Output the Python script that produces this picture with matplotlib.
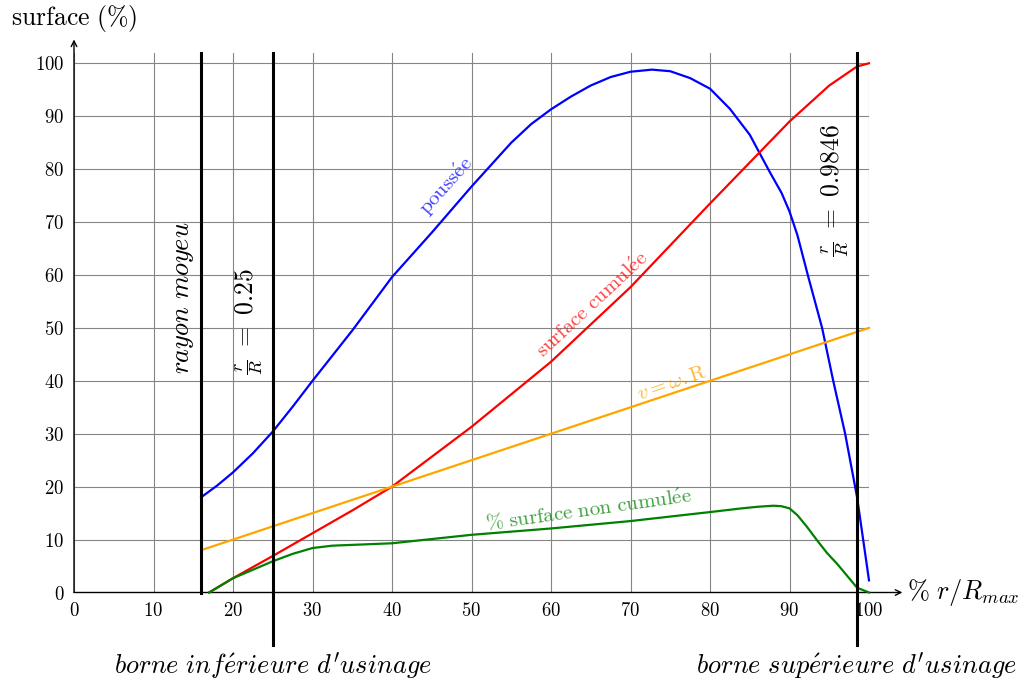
import matplotlib
matplotlib.use('Agg')
import matplotlib.pyplot as plt

plt.rcParams['mathtext.fontset'] = 'cm'
plt.rcParams['font.family'] = ['DejaVu Serif']

# ---- data ----
x_poussee = [16, 18, 20, 22.5, 25, 27.5, 30, 35, 40, 45, 50, 55, 57.5, 60, 62.5, 65, 67.5, 70, 72.7, 75, 77.5, 80, 82.5,
             85, 87.5, 89, 90, 91, 92.3, 93.2, 94.1, 95.5, 97, 98.5, 100]
y_poussee = [18, 20.2, 22.7, 26.3, 30.4, 35.1, 40, 49.5, 59.6, 68.0, 76.7, 85, 88.5, 91.3, 93.7, 95.8, 97.4, 98.4, 98.8, 98.5, 97.2, 95.2, 91.4,
             86.5, 79.5, 75.5, 72, 67.5, 60, 55, 50, 40, 30, 18, 2.3]

x_cumulee = [17, 20, 25, 30, 35, 40, 50, 60, 70, 80, 90, 95, 98.5, 100]
y_cumulee = [0, 2.7, 6.9, 11.2, 15.5, 20, 31.3, 43.6, 57.7, 73.5, 89, 95.8, 99.4, 100]

x_non_cumulee = [17, 20, 25, 27.5, 30, 32.5, 35, 40, 50, 60, 70, 80, 84, 86, 88, 89, 90, 91, 92.2, 93.5, 94.7, 96, 98.5, 100]
y_non_cumulee = [0, 2.7, 5.9, 7.3, 8.4, 8.85, 9.0, 9.3, 10.9, 12.1, 13.5, 15.2, 15.9, 16.2, 16.4, 16.3, 15.9, 14.6, 12.4, 9.8, 7.5, 5.4, 0.9, 0]

x_vitesse = [16, 100]
y_vitesse = [8, 50]

x_bornes = [16, 25, 98.46]
y_bornes_bas = [0, -10, -10]

x_ticks = list(range(0, 101, 10))
y_ticks = list(range(0, 101, 10))

# ---- figure ----
fig = plt.figure(figsize=(10.23, 6.82), dpi=100)
ax = fig.add_axes([74/1023, 89.5/682, 795/1023, 539.8/682])
ax.set_xlim(0, 100)
ax.set_ylim(0, 102)
for s in ax.spines.values():
    s.set_visible(False)

ax.set_xticks(x_ticks)
ax.set_yticks(y_ticks)
ax.set_xticklabels([f'${t}$' for t in x_ticks], fontsize=13.5)
ax.set_yticklabels([f'${t}$' for t in y_ticks], fontsize=13.5)
ax.tick_params(length=0, pad=7)
ax.grid(True, color='#858585', lw=0.8)
ax.set_axisbelow(True)

# axes arrows
ax.annotate('', xy=(104.2, 0), xytext=(0, 0), annotation_clip=False,
            arrowprops=dict(arrowstyle='->', lw=1.0, color='black', shrinkA=0, shrinkB=0))
ax.annotate('', xy=(0, 104.5), xytext=(0, 0), annotation_clip=False,
            arrowprops=dict(arrowstyle='->', lw=1.0, color='black', shrinkA=0, shrinkB=0))

# curves
ax.plot(x_poussee, y_poussee, color='#0000ff', lw=1.6, clip_on=False, zorder=3)
ax.plot(x_cumulee, y_cumulee, color='#ff0000', lw=1.6, clip_on=False, zorder=3)
ax.plot(x_vitesse, y_vitesse, color='#ffa500', lw=1.6, clip_on=False, zorder=3)
ax.plot(x_non_cumulee, y_non_cumulee, color='#008000', lw=1.6, clip_on=False, zorder=3)

# vertical black lines
for xb, yb in zip(x_bornes, y_bornes_bas):
    ax.plot([xb, xb], [yb, 102], color='black', lw=2.2, clip_on=False, zorder=4)

# curve labels
ax.text(46.9, 76.7, r'$\mathrm{pouss\acute{e}e}$', color='#0000ff', alpha=0.75, fontsize=15,
        rotation=48, ha='center', va='center', rotation_mode='anchor')
ax.text(65.3, 54.4, r'$\mathrm{surface\ cumul\acute{e}e}$', color='#ff0000', alpha=0.75, fontsize=15,
        rotation=43, ha='center', va='center', rotation_mode='anchor')
ax.text(75.2, 39.5, r'$v=\omega.\mathrm{R}$', color='#ffa500', alpha=0.8, fontsize=15,
        rotation=19, ha='center', va='center', rotation_mode='anchor')
ax.text(64.7, 15.6, r'$\%\ \mathrm{surface\ non\ cumul\acute{e}e}$', color='#008000', alpha=0.75, fontsize=15,
        rotation=8, ha='center', va='center', rotation_mode='anchor')

# vertical annotations
ax.text(13.8, 55.8, r'$rayon\ moyeu$', fontsize=19, rotation=90, ha='center', va='center')
ax.text(22.0, 51.2, r'$\frac{r}{R}\ =\ 0.25$', fontsize=18.5, rotation=90, ha='center', va='center')
ax.text(95.8, 76.0, r'$\frac{r}{R}\ =\ 0.9846$', fontsize=18.5, rotation=90, ha='center', va='center')

# bottom annotations
ax.text(25, -13.8, r"$borne\ inf\acute{e}rieure\ d'usinage$", fontsize=19, ha='center', va='center')
ax.text(98.4, -13.8, r"$borne\ sup\acute{e}rieure\ d'usinage$", fontsize=19, ha='center', va='center')

# axis titles
ax.text(104.8, 0, r'$\%\ r/R_{max}$', fontsize=19, ha='left', va='center')
ax.text(0, 108.5, r'$\mathrm{surface\ (\%)}$', fontsize=18.5, ha='center', va='center')

fig.savefig('out.png', dpi=100)
